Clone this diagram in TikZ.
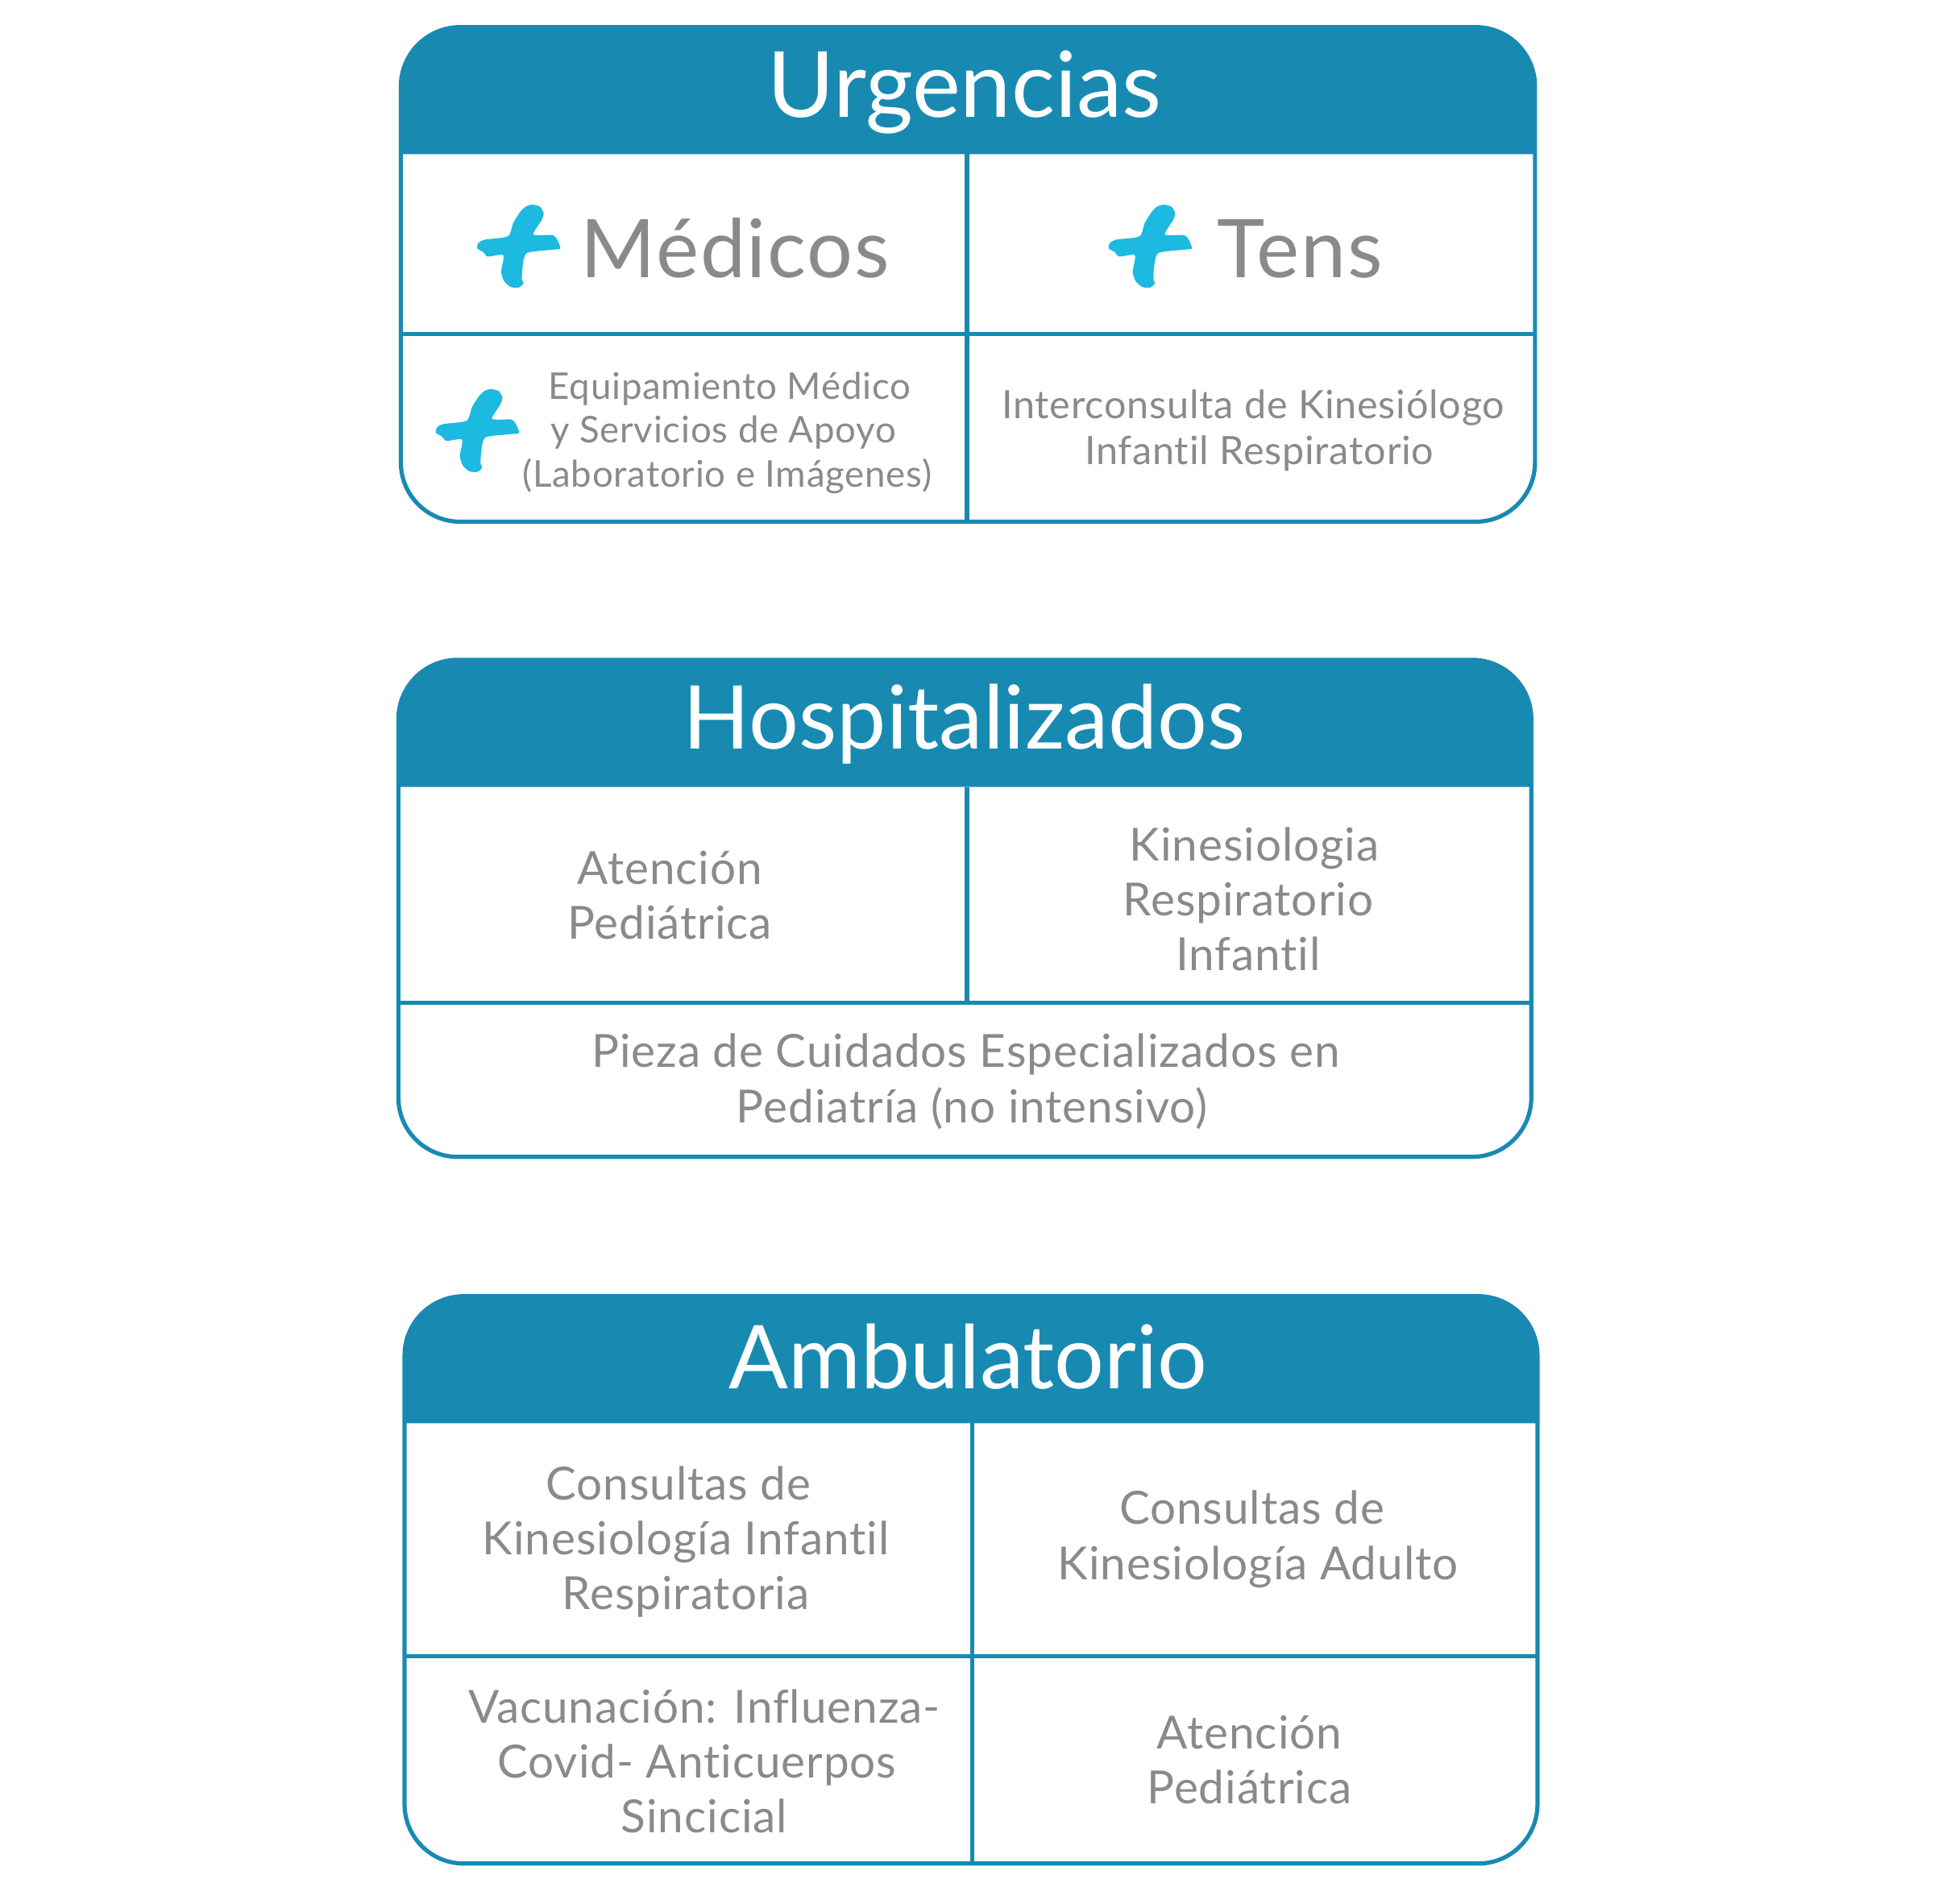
\documentclass[tikz,border=0pt]{standalone}
\usepackage{fontspec}
\setmainfont[Ligatures=NoCommon]{Lato}
\newfontfamily\grayfont[LetterSpace=1.7,Ligatures=NoCommon]{Lato}
\definecolor{boxblue}{RGB}{24,138,178}
\definecolor{crossblue}{RGB}{28,185,224}
\definecolor{txtgray}{RGB}{138,138,138}
\tikzset{
  frameline/.style={color=boxblue,line width=1.7pt},
  headbar/.style={fill=boxblue},
  titletxt/.style={color=white,anchor=base,font=\fontsize{35.7}{40}\selectfont},
  bigtxt/.style={color=txtgray,anchor=base,font=\grayfont\fontsize{32.8}{38}\selectfont},
  bodytxt/.style={color=txtgray,align=center,font=\grayfont\fontsize{18.5}{22.3}\selectfont},
  smalltxt/.style={color=txtgray,align=center,font=\grayfont\fontsize{15.85}{18.6}\selectfont},
  tinytxt/.style={color=txtgray,align=center,font=\grayfont\fontsize{14.9}{17.8}\selectfont},
  crossmark/.pic={
    \fill[crossblue,x=0.109pt,y=-0.109pt] plot[smooth cycle,tension=0.4] coordinates {
      (50,-154) (80,-146) (93,-121) (85,-96) (55,-43) (125,-41) (142,-26) (155,9)
      (120,14) (30,26) (15,74) (12,124) (18,139) (0,154) (-30,152) (-55,129)
      (-65,94) (-57,34) (-115,39) (-132,22) (-154,9) (-150,-11) (-125,-24)
      (-40,-36) (-20,-86) (5,-126) (25,-146)};
  }
}
\begin{document}
\begin{tikzpicture}[x=0.5pt,y=0.5pt,yscale=-1,xscale=1]
\useasboundingbox (0,0) rectangle (1568,1543.2);
%Urgencias box
\fill [headbar] (325,125) [rounded corners=24pt] -- (325,22) -- (1244.5,22) [sharp corners] -- (1244.5,125) -- cycle ;
\draw [frameline,rounded corners=24pt] (325,22) rectangle (1244.5,423);
\draw [frameline] (784,125) -- (784,423);
\draw [frameline] (325,271) -- (1244.5,271);
%Hospitalizados box
\fill [headbar] (323,638) [rounded corners=24pt] -- (323,535) -- (1241.5,535) [sharp corners] -- (1241.5,638) -- cycle ;
\draw [frameline,rounded corners=24pt] (323,535) rectangle (1241.5,938);
\draw [frameline] (784,638) -- (784,813);
\draw [frameline] (323,813) -- (1241.5,813);
%Ambulatorio box
\fill [headbar] (328,1154) [rounded corners=24pt] -- (328,1051) -- (1246.5,1051) [sharp corners] -- (1246.5,1154) -- cycle ;
\draw [frameline,rounded corners=24pt] (328,1051) rectangle (1246.5,1511);
\draw [frameline] (788,1154) -- (788,1511);
\draw [frameline] (328,1343) -- (1246.5,1343);
%Crosses
\path (420.5,199.5) pic {crossmark};
\path (932.5,199.5) pic {crossmark};
\path (387,349) pic {crossmark};

% Text Node
\draw (782,95) node [titletxt,font=\fontsize{37}{40}\selectfont] (urgtitle) {Urgencias};
% Text Node
\draw (782,607) node [titletxt] (hosptitle) {Hospitalizados};
% Text Node
\draw (785,1126) node [titletxt] (ambtitle) {Ambulatorio};
% Text Node
\draw (596,225) node [bigtxt] (medicos) {Médicos};
% Text Node
\draw (1054,225) node [bigtxt] (tens) {Tens};
% Text Node
\draw (589.5,351) node [tinytxt] (equipo) {\hspace*{2pt}Equipamiento Médico\\\hspace*{-3pt}y Servicios de Apoyo\\(Laboratorio e Imágenes)};
% Text Node
\draw (1016,349) node [smalltxt] (interc) {Interconsulta de Kinesiólogo\\\hspace*{5pt}Infantil Respiratorio};
% Text Node
\draw (543,726) node [bodytxt] (atenhosp) {Atención\\Pediátrica};
% Text Node
\draw (1013,729) node [bodytxt] (kinehosp) {\hspace*{4pt}Kinesiologia\\\hspace*{-1pt}Respiratorio\\\hspace*{-1pt}Infantil};
% Text Node
\draw (783,877) node [bodytxt] (pieza) {Pieza de Cuidados Especializados en\\\hspace*{5pt}Pediatría (no intensivo)};
% Text Node
\draw (556,1250) node [bodytxt] (consinf) {\hspace*{-6pt}Consultas de\\Kinesiología Infantil\\Respiratoria};
% Text Node
\draw (1020,1248) node [bodytxt] (consad) {\hspace*{-5pt}Consultas de\\Kinesiología Adulto};
% Text Node
\draw (571,1428) node [bodytxt] (vacuna) {Vacunación: Influenza-\\\hspace*{-6pt}Covid- Anticuerpos\\Sincicial};
% Text Node
\draw (1013,1427) node [bodytxt] (atenamb) {Atención\\Pediátrica};
\end{tikzpicture}
\end{document}
